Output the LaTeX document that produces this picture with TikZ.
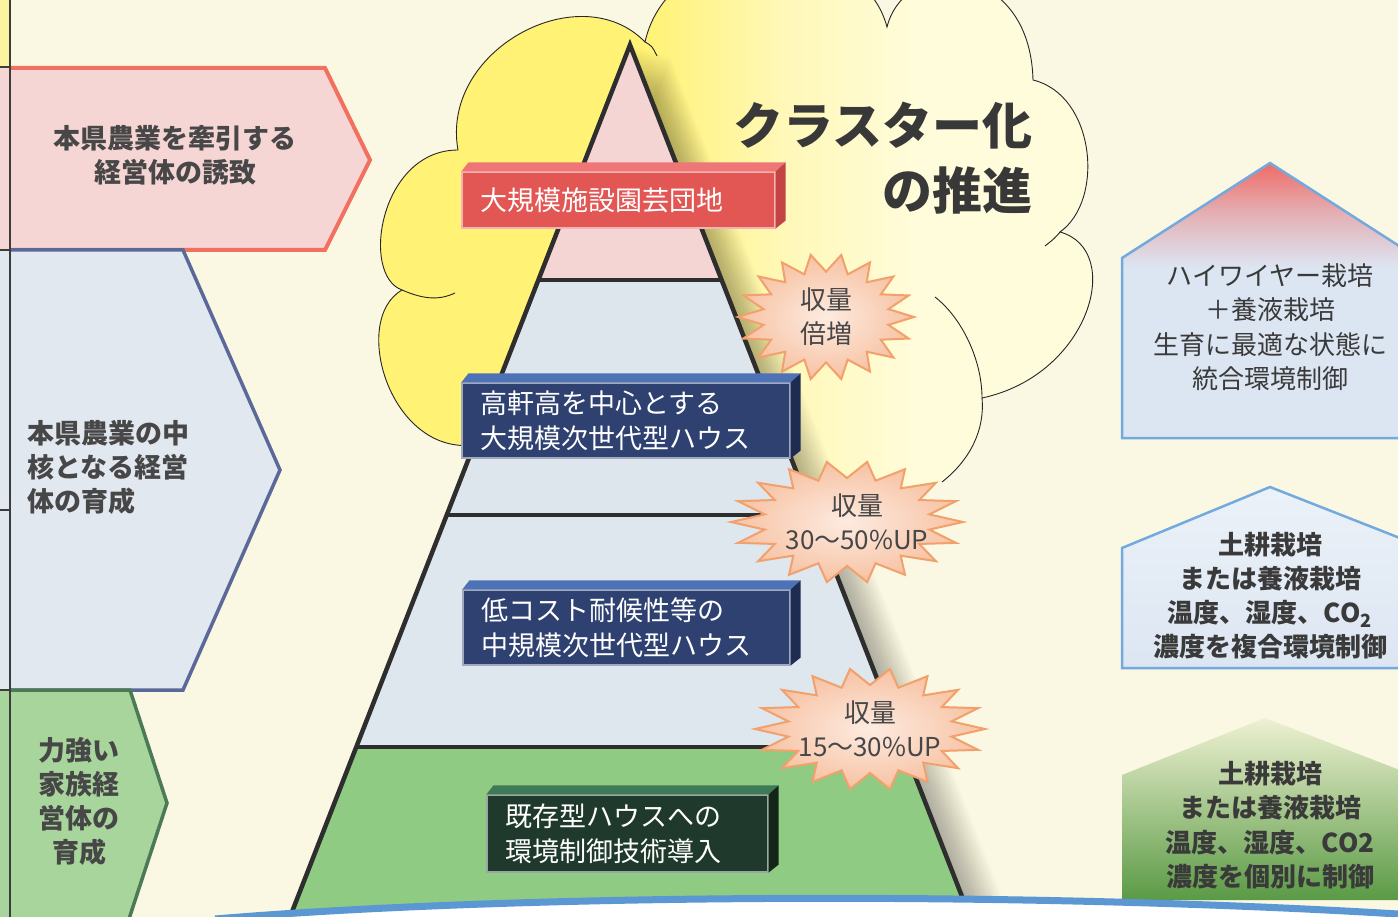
\documentclass[tikz,border=0pt]{standalone}
\usepackage{fontspec}
\setmainfont{Noto Sans CJK JP}
\usetikzlibrary{calc}
\definecolor{bg}{HTML}{FAF7E2}
\definecolor{stripY}{HTML}{FBF3A0}
\definecolor{stripL}{HTML}{3C3C3C}
\definecolor{pinkF}{HTML}{F6D6D4}
\definecolor{pinkB}{HTML}{F2705F}
\definecolor{blueF}{HTML}{E1E8F0}
\definecolor{blueB}{HTML}{5A6999}
\definecolor{greenF}{HTML}{A8D59C}
\definecolor{greenB}{HTML}{4C7A56}
\definecolor{txt}{HTML}{474747}
\definecolor{cloudY}{HTML}{FFF275}
\definecolor{cloudM}{HTML}{FFF8B8}
\definecolor{cloudC}{HTML}{FFFCDC}
\definecolor{pyrPink}{HTML}{F5D5D3}
\definecolor{pyrBlue}{HTML}{DDE5ED}
\definecolor{pyrGreen}{HTML}{8FCB82}
\definecolor{pyrLine}{HTML}{2E2E2E}
\definecolor{redF}{HTML}{E25654}
\definecolor{redT}{HTML}{EF7676}
\definecolor{redS}{HTML}{C44444}
\definecolor{navyF}{HTML}{2F4170}
\definecolor{navyT}{HTML}{4E72B6}
\definecolor{navyS}{HTML}{1E2C52}
\definecolor{dgF}{HTML}{1F3A2C}
\definecolor{dgT}{HTML}{3F7A56}
\definecolor{dgS}{HTML}{132519}
\definecolor{burstIn}{HTML}{FDEBE0}
\definecolor{burstOut}{HTML}{F7C2A3}
\definecolor{burstB}{HTML}{F2A06C}
\definecolor{houseB}{HTML}{72AADF}
\definecolor{houseL}{HTML}{DCE6F2}
\definecolor{houseR}{HTML}{EF6B66}
\definecolor{houseT}{HTML}{3A3A3A}
\definecolor{hgTop}{HTML}{EEF1D2}
\definecolor{hgMid}{HTML}{A9CB86}
\definecolor{hgBot}{HTML}{5A9A45}
\definecolor{arcB}{HTML}{5B97D2}
\pgfdeclarehorizontalshading{cloudsh}{100bp}{color(0bp)=(cloudY);color(44bp)=(cloudY);color(53bp)=(cloudM);color(62bp)=(cloudC);color(100bp)=(cloudC)}
\pgfdeclareverticalshading{roofsh}{100bp}{color(0bp)=(houseL);color(56bp)=(houseL);color(66bp)=(houseR!45!houseL);color(75bp)=(houseR);color(100bp)=(houseR)}
\newcommand\boxthree[9]{%
  \node[boxface, fill=#6, draw=#6!45!white, minimum width=#4pt, minimum height=#5pt, text width=\dimexpr#4pt-36pt\relax] (#1) at (#2,#3) {#9};
  \fill[#7] (#1.north west) -- ++(7,-9) -- ($(#1.north east)+(10,-9)$) -- (#1.north east) -- cycle;
  \fill[#8] (#1.north east) -- ++(10,-9) -- ($(#1.south east)+(10,-8)$) -- (#1.south east) -- cycle;
}
\newcommand\burst[6]{%
  \path[burstst] ({#2+#4},{#3}) \foreach \i in {1,...,35}{ -- ({#2+ifthenelse(mod(\i,2)==0,1,0.72)*#4*cos(10*\i)},{#3+ifthenelse(mod(\i,2)==0,1,0.72)*#5*sin(10*\i)}) } -- cycle;
  \node[bursttxt] (#1) at (#2,#3) {#6};
}
\begin{document}
\begin{tikzpicture}[x=1pt,y=-1pt,
  stripln/.style={draw=stripL, line width=2.5pt},
  pent/.style={line width=4pt, line join=miter},
  lefttxt/.style={text=txt, font=\bfseries\fontsize{27}{34}\selectfont, inner sep=0pt},
  boxface/.style={text=white, font=\fontsize{27}{35}\selectfont, align=left, inner sep=0pt, line width=1.2pt},
  burstst/.style={draw=burstB, line width=2pt, inner color=burstIn, outer color=burstOut, line join=miter},
  bursttxt/.style={text=txt, font=\fontsize{26}{34}\selectfont, align=center, inner sep=0pt},
  housetxt/.style={text=houseT, font=\fontsize{26}{34.5}\selectfont, align=center, inner sep=0pt},
  pyrline/.style={draw=pyrLine, line width=4.5pt, line join=miter},
  cloudline/.style={draw=black!85, line width=0.9pt}
]
\useasboundingbox (0,0) rectangle (1398,917);
\fill[bg] (0,0) rectangle (1398,917);

% ---------- left strip ----------
\fill[stripY] (0,0) rectangle (10,67);
\fill[pinkF] (0,67) rectangle (10,250);
\fill[blueF] (0,250) rectangle (10,690);
\fill[greenF] (0,690) rectangle (10,917);

% ---------- left pentagons ----------
\fill[pinkF] (11,68) -- (325,68) -- (370,160) -- (325,250) -- (11,250) -- cycle;
\draw[pent, draw=pinkB] (11,68) -- (325,68) -- (370,160) -- (325,250) -- (11,250);
\fill[blueF] (11,250) -- (183,250) -- (280,470) -- (183,690) -- (11,690) -- cycle;
\draw[pent, draw=blueB, line width=3.5pt] (11,250) -- (183,250) -- (280,470) -- (183,690) -- (11,690);
\fill[greenF] (11,690) -- (130,690) -- (167,803) -- (127,925) -- (11,925) -- cycle;
\draw[pent, draw=greenB, line width=3.5pt] (11,690) -- (130,690) -- (167,803) -- (127,925);

\draw[stripln] (10,0) -- (10,917);
\foreach \yy in {67,250,510,690} \draw[stripln] (0,\yy) -- (10,\yy);

\node[lefttxt, align=center] (lt1) at (175,155) {本県農業を牽引する\\経営体の誘致};
\node[lefttxt, align=left, anchor=west] (lt2) at (27,467) {本県農業の中\\核となる経営\\体の育成};
\node[lefttxt, align=center] (lt3) at (79,801) {力強い\\家族経\\営体の\\育成};

% ---------- cloud ----------
\path[shading=cloudsh] (458,150) .. controls (440,50) and (580,-25) .. (645,42)
  .. controls (670,-70) and (860,-75) .. (887,27)
  .. controls (905,-45) and (1030,-40) .. (1033,80)
  .. controls (1095,95) and (1105,200) .. (1060,232)
  .. controls (1125,250) and (1090,375) .. (982,398)
  .. controls (985,430) and (970,460) .. (942,482)
  -- (870,540) -- (600,540) -- (474,445)
  .. controls (390,455) and (350,320) .. (402,290)
  .. controls (360,275) and (380,150) .. (458,150) -- cycle;
\draw[cloudline] (474,445)
  .. controls (390,455) and (350,320) .. (402,290)
  .. controls (360,275) and (380,150) .. (458,150)
  .. controls (440,50) and (580,-25) .. (645,42)
  .. controls (670,-70) and (860,-75) .. (887,27)
  .. controls (905,-45) and (1030,-40) .. (1033,80)
  .. controls (1095,95) and (1105,200) .. (1060,232)
  .. controls (1125,250) and (1090,375) .. (982,398)
  .. controls (985,430) and (970,460) .. (942,482);
\draw[cloudline] (402,290) .. controls (425,300) and (440,300) .. (455,293);
\draw[cloudline] (935,297) .. controls (962,318) and (982,360) .. (982,398);
\draw[cloudline] (1060,232) .. controls (1055,238) .. (1045,246);
\draw[cloudline] (645,42) .. controls (652,46) .. (657,56);

\node[text=black!78, font=\bfseries\fontsize{50}{65}\selectfont, align=right, anchor=east, inner sep=0pt] (title) at (1033,158) {クラスター化\\の推進};

% ---------- pyramid ----------
\coordinate (P0) at (630,45);
\coordinate (L1) at (538,280); \coordinate (R1) at (722,280);
\coordinate (L2) at (447,515); \coordinate (R2) at (813,515);
\coordinate (L3) at (356,747); \coordinate (R3) at (904,747);
\coordinate (L4) at (290,917); \coordinate (R4) at (970,917);
\foreach \d in {2,4,...,40}{
  \fill[black, opacity=0.016] ($(P0)+(\d,{0.3*\d})$) -- ($(R4)+(\d,0)$) -- ($(L4)+(\d,0)$) -- cycle;
}
\fill[pyrPink] (P0) -- (R1) -- (L1) -- cycle;
\fill[pyrBlue] (L1) -- (R1) -- (R2) -- (L2) -- cycle;
\fill[pyrBlue!96!white] (L2) -- (R2) -- (R3) -- (L3) -- cycle;
\fill[pyrGreen] (L3) -- (R3) -- (R4) -- (L4) -- cycle;
\draw[pyrline, line width=4pt] (L1) -- (R1) (L2) -- (R2) (L3) -- (R3);
\draw[pyrline] (L4) -- (P0) -- (R4);

% ---------- 3D boxes ----------
\boxthree{b1}{618.5}{200}{313}{56}{redF}{redT}{redS}{大規模施設園芸団地}
\boxthree{b2}{626}{420.5}{328}{75}{navyF}{navyT}{navyS}{高軒高を中心とする\\大規模次世代型ハウス}
\boxthree{b3}{626.5}{627.5}{327}{75}{navyF}{navyT}{navyS}{低コスト耐候性等の\\中規模次世代型ハウス}
\boxthree{b4}{627.5}{833.5}{281}{77}{dgF}{dgT}{dgS}{既存型ハウスへの\\環境制御技術導入}

% ---------- starbursts ----------
\burst{s1}{826}{317}{88}{63}{収量\\倍増}
\burst{s2}{847}{522}{116}{61}{\hspace*{20pt}収量\\\hspace*{20pt}30〜50\%UP}
\burst{s3}{870}{729}{115}{61}{収量\\15〜30\%UP}

% ---------- houses ----------
\path[shading=roofsh] (1122,438) -- (1122,258) -- (1270,163) -- (1410,253) -- (1410,438) -- cycle;
\draw[draw=houseB, line width=2.5pt] (1122,438) -- (1122,258) -- (1270,163) -- (1410,253) -- (1410,438) -- cycle;
\node[housetxt] (h1) at (1270,327) {ハイワイヤー栽培\\＋養液栽培\\生育に最適な状態に\\統合環境制御};

\path[top color=houseL!55!white, bottom color=houseL] (1122,668) -- (1122,548) -- (1270,487) -- (1410,542) -- (1410,668) -- cycle;
\draw[draw=houseB, line width=2.5pt] (1122,668) -- (1122,548) -- (1270,487) -- (1410,542) -- (1410,668) -- cycle;
\node[housetxt, font=\bfseries\fontsize{26}{34}\selectfont] (h2) at (1270,596) {土耕栽培\\または養液栽培\\温度、湿度、CO\textsubscript{2}\\濃度を複合環境制御};

\path[top color=hgTop, middle color=hgMid, bottom color=hgBot] (1122,900) -- (1122,775) -- (1265,718) -- (1410,774) -- (1410,900) -- cycle;
\node[housetxt, font=\bfseries\fontsize{26}{34.5}\selectfont] (h3) at (1270,825) {土耕栽培\\または養液栽培\\温度、湿度、CO2\\濃度を個別に制御};

% ---------- bottom arc ----------
\fill[white] (215,917) .. controls (500,893) and (1000,888) .. (1398,912) -- (1398,930) -- (215,930) -- cycle;
\draw[draw=arcB, line width=7pt] (215,919) .. controls (500,895) and (1000,890) .. (1398,914);
\end{tikzpicture}
\end{document}
